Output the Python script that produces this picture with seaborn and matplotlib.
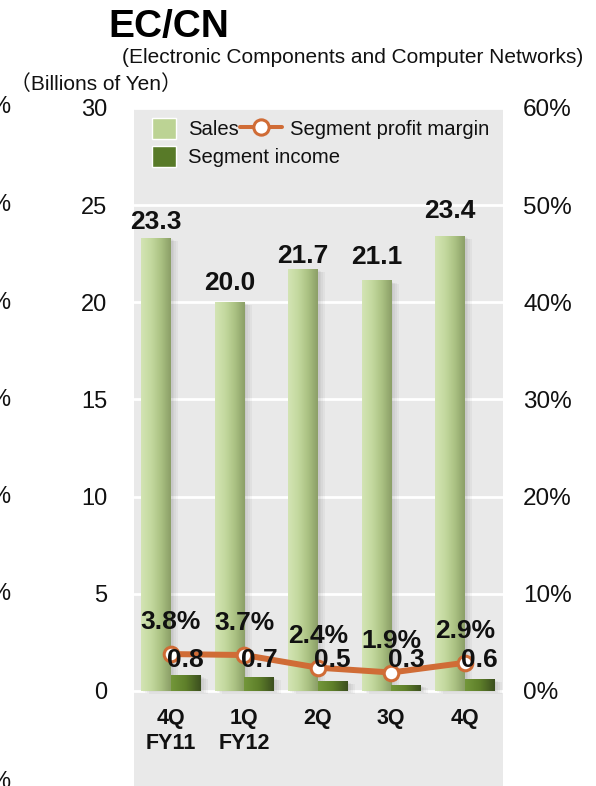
import numpy as np
import pandas as pd
import matplotlib
matplotlib.use("Agg")
import matplotlib.pyplot as plt
import seaborn as sns
from matplotlib.colors import LinearSegmentedColormap
from matplotlib.patches import Patch, Rectangle
from matplotlib.lines import Line2D

# chart data
quarters = ["4Q\nFY11", "1Q\nFY12", "2Q", "3Q", "4Q"]
sales = [23.3, 20.0, 21.7, 21.1, 23.4]
income = [0.8, 0.7, 0.5, 0.3, 0.6]
margin = [3.8, 3.7, 2.4, 1.9, 2.9]
left_ticks = [0, 5, 10, 15, 20, 25, 30]
right_ticks = [0, 10, 20, 30, 40, 50, 60]

# label nudges (points above bar top), picked by eye
sales_pad = [6.5, 8.6, 4.3, 12.0, 13.0]

ORANGE = "#D06C36"
TXT = "#111111"

sns.set_theme(style="white")
plt.rcParams["font.family"] = ["Liberation Sans", "Noto Sans CJK JP", "DejaVu Sans"]

fig = plt.figure(figsize=(5.96, 7.86), dpi=100)
ax = fig.add_axes([134 / 596, 0, 369 / 596, 678 / 786])
ax.set_facecolor("#E9E9E9")

df = pd.DataFrame({
    "quarter": quarters * 2,
    "series": ["Sales"] * len(sales) + ["Segment income"] * len(income),
    "value": sales + income,
})
sns.barplot(data=df, x="quarter", y="value", hue="series",
            palette=["#BCD394", "#587A28"], saturation=1, width=0.8,
            legend=False, ax=ax)

# gradient fill + soft shadow on each bar
cmaps = [
    LinearSegmentedColormap.from_list("s", ["#D3E4B4", "#C4D99F", "#ABC283", "#8B9F67"]),
    LinearSegmentedColormap.from_list("i", ["#73973A", "#5E7F2A", "#3C4F1F"]),
]
grad = np.linspace(0, 1, 64).reshape(1, -1)
for cont, cmap in zip(ax.containers, cmaps):
    for bar in cont:
        x0, y0 = bar.get_x(), bar.get_y()
        w, h = bar.get_width(), bar.get_height()
        for k in range(1, 5):
            ax.add_patch(Rectangle((x0 + k * 0.025, y0 - k * 0.04), w, h,
                                   facecolor="black", alpha=0.035,
                                   edgecolor="none", zorder=2.5))
        ax.imshow(grad, cmap=cmap, extent=[x0, x0 + w, y0, y0 + h],
                  aspect="auto", zorder=3, interpolation="bicubic")
        bar.set_alpha(0)

ax.set_xlim(-0.5, 4.52)
ax.set_ylim(-4.89, 30)
ax.set_yticks(left_ticks)
ax.set_xticks([])
ax.set_xlabel("")
ax.set_ylabel("")
ax.grid(axis="y", color="white", lw=2)
ax.set_axisbelow(True)
ax.tick_params(axis="y", length=0, pad=19.4, labelsize=17, labelcolor=TXT)
for s in ax.spines.values():
    s.set_visible(False)

ax2 = ax.twinx()
sns.lineplot(x=np.arange(len(margin)), y=margin, ax=ax2, color=ORANGE, lw=4.3,
             marker="o", markersize=10.5, markerfacecolor="white",
             markeredgecolor=ORANGE, markeredgewidth=2.2, zorder=5)
ax2.set_xlim(-0.5, 4.52)
ax2.set_ylim(-9.78, 60)
ax2.set_yticks(right_ticks)
ax2.set_yticklabels([f"{v}%" for v in right_ticks])
ax2.set_ylabel("")
ax2.grid(False)
ax2.tick_params(axis="y", length=0, pad=14.4, labelsize=17.5, labelcolor=TXT)
for s in ax2.spines.values():
    s.set_visible(False)

# value labels
lbl = dict(ha="center", va="baseline", fontsize=19, fontweight="bold", color=TXT, zorder=10)
for i, v in enumerate(sales):
    ax2.annotate(f"{v:.1f}", xy=(i - 0.2, v), xycoords=ax.transData,
                 xytext=(0, sales_pad[i]), textcoords="offset points", **lbl)
for i, v in enumerate(income):
    ax2.text(i + 0.2, 1.24, f"{v:.1f}", transform=ax.transData, **lbl)
for i, m in enumerate(margin):
    ax2.annotate(f"{m:.1f}%", xy=(i, m), xytext=(0, 18),
                 textcoords="offset points", **lbl)

for i, q in enumerate(quarters):
    ax2.text(i, -0.88, q, transform=ax.transData, ha="center", va="top",
             fontsize=15.5, fontweight="bold", color=TXT, linespacing=1.25)

# legends
bar_handles = [Patch(facecolor="#BCD394"), Patch(facecolor="#587A28")]
leg1 = ax.legend(bar_handles, ["Sales", "Segment income"], loc="upper left",
                 bbox_to_anchor=(0.0488, 0.985), borderaxespad=0, borderpad=0,
                 frameon=False, fontsize=14.6, handlelength=1.19, handleheight=1.19,
                 handletextpad=0.58, labelspacing=0.33, labelcolor=TXT)
line_handle = Line2D([], [], color=ORANGE, lw=2.9, marker="o", markersize=11,
                     markerfacecolor="white", markeredgecolor=ORANGE,
                     markeredgewidth=2.2)
ax2.legend([line_handle], ["Segment profit margin"], loc="upper left",
           bbox_to_anchor=(0.287, 0.985), borderaxespad=0, borderpad=0,
           frameon=False, fontsize=14.6, handlelength=2.07, handleheight=1.19,
           handletextpad=0.39, labelcolor=TXT)

# titles
fig.text(108 / 596, 1 - 37 / 786, "EC/CN", fontsize=28, fontweight="bold",
         va="baseline", color="black")
fig.text(583 / 596, 1 - 63 / 786, "(Electronic Components and Computer Networks)",
         ha="right", va="baseline", fontsize=15, color=TXT)
fig.text(10 / 596, 1 - 90 / 786, "（Billions of Yen）", va="baseline",
         fontsize=15, color=TXT)

# clipped axis of the neighbouring chart
for y in [107, 205, 303, 400, 497, 594, 782]:
    fig.text(10 / 596, 1 - y / 786, "%", ha="right", va="center",
             fontsize=17, color=TXT)

fig.savefig("out.png", dpi=100)
